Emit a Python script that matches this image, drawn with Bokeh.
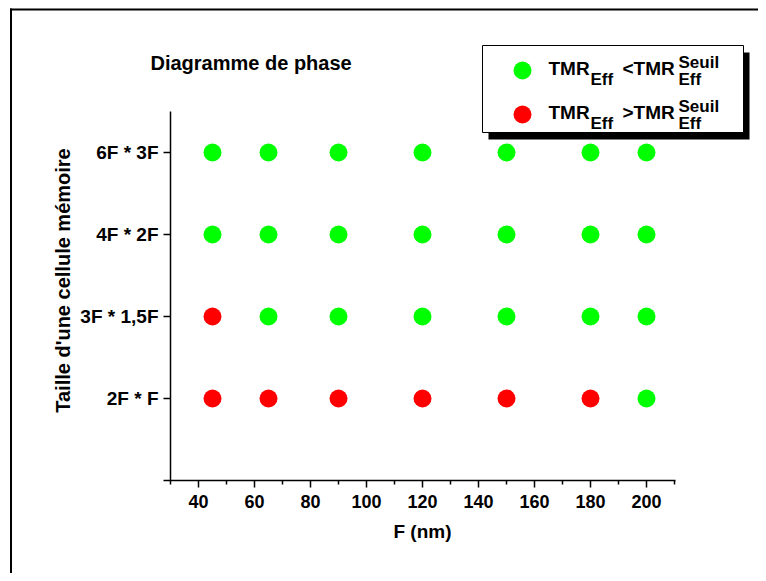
import math
from bokeh.plotting import figure
from bokeh.models import Range1d, FixedTicker, Label, BoxAnnotation, InlineStyleSheet
from bokeh.embed import file_html
from bokeh.resources import INLINE

# ---------------- data ----------------
f_nm = [45, 65, 90, 120, 150, 180, 200]
cell_sizes = ["2F * F", "3F * 1,5F", "4F * 2F", "6F * 3F"]
# 1 = TMR_Eff > TMR_Eff^Seuil (red), 0 = TMR_Eff < TMR_Eff^Seuil (green)
state_2F_F = [1, 1, 1, 1, 1, 1, 0]
state_3F_15F = [1, 0, 0, 0, 0, 0, 0]
state_4F_2F = [0, 0, 0, 0, 0, 0, 0]
state_6F_3F = [0, 0, 0, 0, 0, 0, 0]
x_ticks = [40, 60, 80, 100, 120, 140, 160, 180, 200]
x_minor_ticks = [30, 50, 70, 90, 110, 130, 150, 170, 190, 210]
title_text = "Diagramme de phase"
x_label = "F (nm)"
y_label = "Taille d'une cellule mémoire"

rows = [state_2F_F, state_3F_15F, state_4F_2F, state_6F_3F]
xs_g, ys_g, xs_r, ys_r = [], [], [], []
for i, row in enumerate(rows):
    for fx, s in zip(f_nm, row):
        if s:
            xs_r.append(fx); ys_r.append(i + 1)
        else:
            xs_g.append(fx); ys_g.append(i + 1)

FONT = "Liberation Sans"
GREEN = "#00FF00"
RED = "#FF0000"

# page-pixel -> data helpers (canvas origin on page is (0, 0))
FR_L, FR_B = 170.0, 480.0
PXU, PYU = 2.8, 82.0
def DX(px):
    return 30 + (px - FR_L) / PXU
def DY(py):
    return (FR_B - py) / PYU

W, H = 758, 573
p = figure(width=W, height=H, output_backend="svg", toolbar_location=None,
           x_range=Range1d(DX(0), DX(W)), y_range=Range1d(DY(H), DY(0)),
           min_border=0, min_border_left=0, min_border_right=0,
           min_border_top=0, min_border_bottom=0)
p.stylesheets = [InlineStyleSheet(css=":host { overflow: hidden !important; } "
                                      "div { overflow: hidden !important; } "
                                      "svg { display: block; }")]
p.outline_line_color = None
p.xgrid.visible = False
p.ygrid.visible = False
p.background_fill_color = "white"
p.border_fill_color = "white"

# outer frame (only its left and top edges fall inside the picture)
p.add_layout(BoxAnnotation(left=DX(9.5), right=DX(11.5), top=DY(8),
                           fill_color="black", fill_alpha=1, line_color=None,
                           level="underlay"))
p.add_layout(BoxAnnotation(left=DX(9.5), top=DY(8), bottom=DY(10),
                           fill_color="black", fill_alpha=1, line_color=None,
                           level="underlay"))

# data points
p.scatter(xs_g, ys_g, size=18, fill_color=GREEN, line_color=None)
p.scatter(xs_r, ys_r, size=18, fill_color=RED, line_color=None)

# axes (drawn at fixed data locations inside the plotting area)
xa = p.xaxis[0]
xa.fixed_location = 0
xa.bounds = (27.5, 210.5)
xa.ticker = FixedTicker(ticks=x_ticks, minor_ticks=x_minor_ticks)
ya = p.yaxis[0]
ya.fixed_location = 30
ya.bounds = (0, 4.5)
ya.ticker = FixedTicker(ticks=[1, 2, 3, 4], minor_ticks=[])
ya.major_label_overrides = {i + 1: lab for i, lab in enumerate(cell_sizes)}
for ax in (xa, ya):
    ax.axis_line_width = 1.5
    ax.major_tick_line_width = 1.5
    ax.minor_tick_line_width = 1.5
    ax.major_tick_out = 7
    ax.major_tick_in = 0
    ax.minor_tick_out = 4
    ax.minor_tick_in = 0
    ax.major_label_text_font = FONT
    ax.major_label_text_font_style = "bold"
    ax.major_label_text_color = "black"
xa.major_label_text_font_size = "18px"
xa.major_label_standoff = 7
ya.major_label_text_font_size = "19px"
ya.major_label_standoff = 5

def lbl(px, py, text, size, align="left", angle=0.0):
    # py is the vertical centre of the capital letters
    p.add_layout(Label(x=DX(px), y=DY(py), text=text, text_font=FONT,
                       text_font_style="bold", text_font_size=size,
                       text_baseline="middle", text_align=align, angle=angle,
                       text_color="black"))

# axis titles and chart title
lbl(422, 530.5, x_label, "19px", align="center")
lbl(62, 280, y_label, "20px", align="center", angle=math.pi / 2)
lbl(150, 62, title_text, "20px")

# legend box with shadow
p.add_layout(BoxAnnotation(left=DX(488), right=DX(749), top=DY(52), bottom=DY(139),
                           fill_color="black", fill_alpha=1, line_color=None,
                           level="underlay"))
p.add_layout(BoxAnnotation(left=DX(482), right=DX(743), top=DY(45), bottom=DY(132),
                           fill_color="white", fill_alpha=1, line_color="black",
                           line_alpha=1, line_width=1, level="underlay"))

# legend swatches
p.scatter([DX(522)], [DY(70)], size=18, fill_color=GREEN, line_color=None)
p.scatter([DX(522)], [DY(114)], size=18, fill_color=RED, line_color=None)

for dy, rel in ((0, "<TMR"), (44, ">TMR")):
    lbl(548, 68.3 + dy, "TMR", "19px")
    lbl(590, 79 + dy, "Eff", "17px")
    lbl(622, 68.3 + dy, rel, "19px")
    lbl(678, 62 + dy, "Seuil", "17px")
    lbl(678, 79 + dy, "Eff", "17px")

open("out.html", "w").write(file_html(p, INLINE))
